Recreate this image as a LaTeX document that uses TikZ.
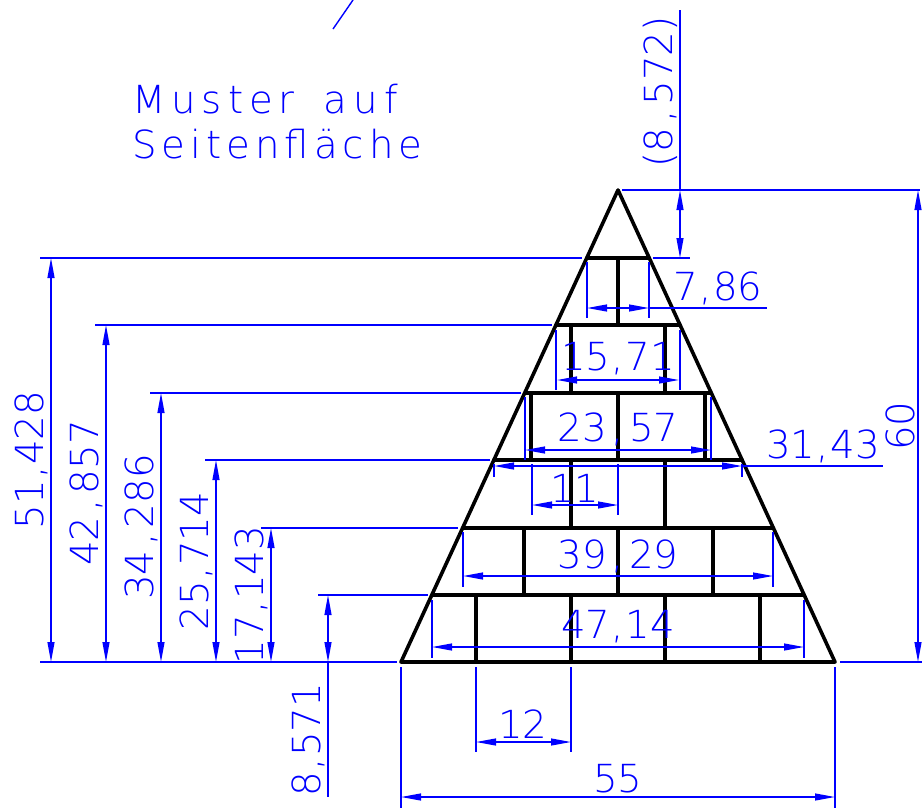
\documentclass[tikz,border=0pt]{standalone}
\usepackage{fontspec}
\setmainfont{DejaVu Sans ExtraLight}
\usetikzlibrary{arrows.meta}
\definecolor{cadblue}{RGB}{0,0,255}
\newcommand{\cm}{\kern.13em,\kern.13em}
\newcommand{\cmn}{\kern.04em,\kern.04em}
\tikzset{
  x=0.75pt,y=-0.75pt,
  wall/.style={black,line width=2.7pt,line cap=round,line join=round},
  ext/.style={cadblue,line width=1.05pt},
  dimline/.style={cadblue,line width=1.05pt,{Triangle[length=15pt,width=5.2pt]}-{Triangle[length=15pt,width=5.2pt]}},
  dimtext/.style={cadblue,font=\fontsize{29}{29}\selectfont,anchor=base,inner sep=0pt,outer sep=0pt},
  vtext/.style={dimtext,rotate=90},
  note/.style={cadblue,font=\fontsize{29}{29}\selectfont,anchor=base west,inner sep=0pt,outer sep=0pt}
}
\begin{document}
\begin{tikzpicture}
\useasboundingbox (0,0) rectangle (922,808);
% pyramid
\coordinate (apex) at (618,190);
\coordinate (bl) at (401,662);
\coordinate (br) at (835,662);
\draw[wall] (apex) -- (bl) -- (br) -- cycle;
\draw[wall] (587,258) -- (649,258);
\draw[wall] (556,325) -- (680,325);
\draw[wall] (525,393) -- (711,393);
\draw[wall] (494,460) -- (742,460);
\draw[wall] (463,528) -- (773,528);
\draw[wall] (432,595) -- (804,595);
\foreach \xx/\ya/\yb in {618/258/325, 571/325/393, 665/325/393, 531/393/460, 618/393/460, 705/393/460,
  571/460/528, 665/460/528, 524/528/595, 618/528/595, 713/528/595, 476/595/662, 571/595/662, 665/595/662, 760/595/662}
  \draw[wall,line cap=butt] (\xx,\ya) -- (\xx,\yb);
% extension lines, right and top
\draw[ext] (622,190) -- (920,190);
\draw[ext] (653,258) -- (690,258);
\draw[ext] (333,29) -- (353,0);
% extension lines, left
\draw[ext] (40,258) -- (582,258);
\draw[ext] (95,325) -- (552,325);
\draw[ext] (150,393) -- (521,393);
\draw[ext] (205,460) -- (490,460);
\draw[ext] (261,528) -- (458,528);
\draw[ext] (318,595) -- (428,595);
\draw[ext] (40,662) -- (397,662);
\draw[ext] (840,662) -- (922,662);
% vertical dimensions
\draw[dimline] (51,258) -- (51,662);
\draw[dimline] (106,325) -- (106,662);
\draw[dimline] (161,393) -- (161,662);
\draw[dimline] (216,460) -- (216,662);
\draw[dimline] (271,528) -- (271,662);
\draw[dimline] (328,595) -- (328,662);
\draw[ext] (328,662) -- (328,797);
\draw[dimline] (918,190) -- (918,662);
\draw[dimline] (680,190) -- (680,258);
\draw[ext] (680,190) -- (680,10);
% horizontal dimensions in the courses
\foreach \xa/\xb/\ya/\yb in {587/649/262/318, 556/680/330/390, 525/711/397/460, 494/742/464/477,
  463/773/532/587, 432/804/600/658}{
  \draw[ext] (\xa,\ya) -- (\xa,\yb);
  \draw[ext] (\xb,\ya) -- (\xb,\yb);
}
\draw[dimline] (587,308) -- (649,308);
\draw[ext] (649,308) -- (767,308);
\draw[dimline] (557,380) -- (679,380);
\draw[dimline] (525,450) -- (711,450);
\draw[dimline] (494,466) -- (742,466);
\draw[ext] (742,466) -- (883,466);
\draw[ext] (532,464) -- (532,515);
\draw[ext] (618,464) -- (618,515);
\draw[dimline] (532,505) -- (618,505);
\draw[dimline] (463,576) -- (773,576);
\draw[dimline] (432,647) -- (804,647);
% bottom dimensions
\draw[ext] (476,667) -- (476,752);
\draw[ext] (571,667) -- (571,752);
\draw[dimline] (476,742) -- (571,742);
\draw[ext] (401,667) -- (401,808);
\draw[ext] (835,667) -- (835,808);
\draw[dimline] (401,797) -- (835,797);
% labels
\node[note] (title1) at (132,113) {\addfontfeature{LetterSpace=15.5}Muster\kern.75em auf};
\node[note] (title2) at (132,158) {\addfontfeature{LetterSpace=13}Seitenfläche};
\node[dimtext] (d786) at (718,300) {7\cmn 86};
\node[dimtext] (d1571) at (618,370) {15\cmn 71};
\node[dimtext] (d2357) at (618,441) {23\cm 57};
\node[dimtext] (d3143) at (823,458) {31\cmn 43};
\node[dimtext] (d11) at (575,502) {11};
\node[dimtext] (d3929) at (618,568) {39\cm 29};
\node[dimtext] (d4714) at (618,638) {47\cmn 14};
\node[dimtext] (d12) at (523,738) {12};
\node[dimtext] (d55) at (618,792) {55};
\node[vtext] (v51428) at (43,460) {51\cmn 428};
\node[vtext] (v42857) at (98,493) {42\cm 857};
\node[vtext] (v34286) at (153,527) {34\cm 286};
\node[vtext] (v25714) at (208,561) {25\cmn 714};
\node[vtext] (v17143) at (263,595) {17\cmn 143};
\node[vtext] (v8571) at (320,740) {8\cmn 571};
\node[vtext] (v8572) at (672,92) {(8\cm 572)};
\node[vtext] (v60) at (914,426) {60};
\end{tikzpicture}
\end{document}
